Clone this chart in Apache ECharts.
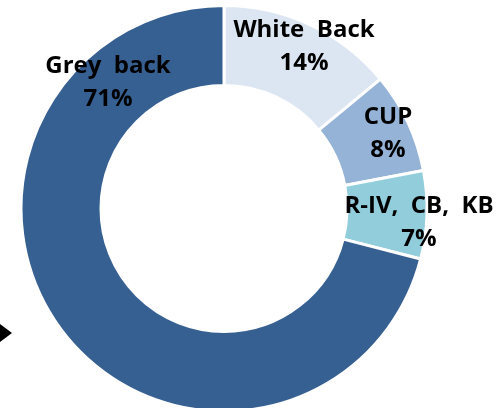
<!DOCTYPE html>
<html><head><meta charset="utf-8">
<script src="https://cdn.jsdelivr.net/npm/echarts@6/dist/echarts.min.js"></script>
<style>html,body{margin:0;padding:0;background:#fff}#c{width:499px;height:408px}</style>
</head><body><div id="c"></div>
<script>
const categories = ['White Back', 'CUP', 'R-IV, CB, KB', 'Grey back'];
const values = [14, 8, 7, 71];
const colors = ['#DCE6F2', '#95B3D7', '#92CDDC', '#376092'];
const labelPos = [[304, 47], [388, 134], [419, 223], [108, 83]];

const chart = echarts.init(document.getElementById('c'), null, {renderer: 'canvas'});
chart.setOption({
  animation: false,
  graphic: [{
    type: 'polygon',
    shape: {points: [[0, 324], [12, 333], [0, 342]]},
    style: {fill: '#000'}
  }],
  series: [{
    type: 'pie',
    center: [224, 208.5],
    radius: [123, 203],
    startAngle: 90,
    clockwise: true,
    avoidLabelOverlap: false,
    itemStyle: {borderColor: '#fff', borderWidth: 3},
    label: {
      show: true,
      position: 'inside',
      formatter: p => p.name.replace(/ /g, '  ') + '\n' + p.value + '%',
      fontFamily: 'Open Sans',
      fontWeight: 'bold',
      fontSize: 24,
      lineHeight: 33,
      color: '#000',
      align: 'center'
    },
    labelLine: {show: false},
    labelLayout: p => ({x: labelPos[p.dataIndex][0], y: labelPos[p.dataIndex][1], align: 'center', verticalAlign: 'middle'}),
    emphasis: {disabled: true},
    data: categories.map((c, i) => ({name: c, value: values[i], itemStyle: {color: colors[i]}}))
  }]
});
</script></body></html>
